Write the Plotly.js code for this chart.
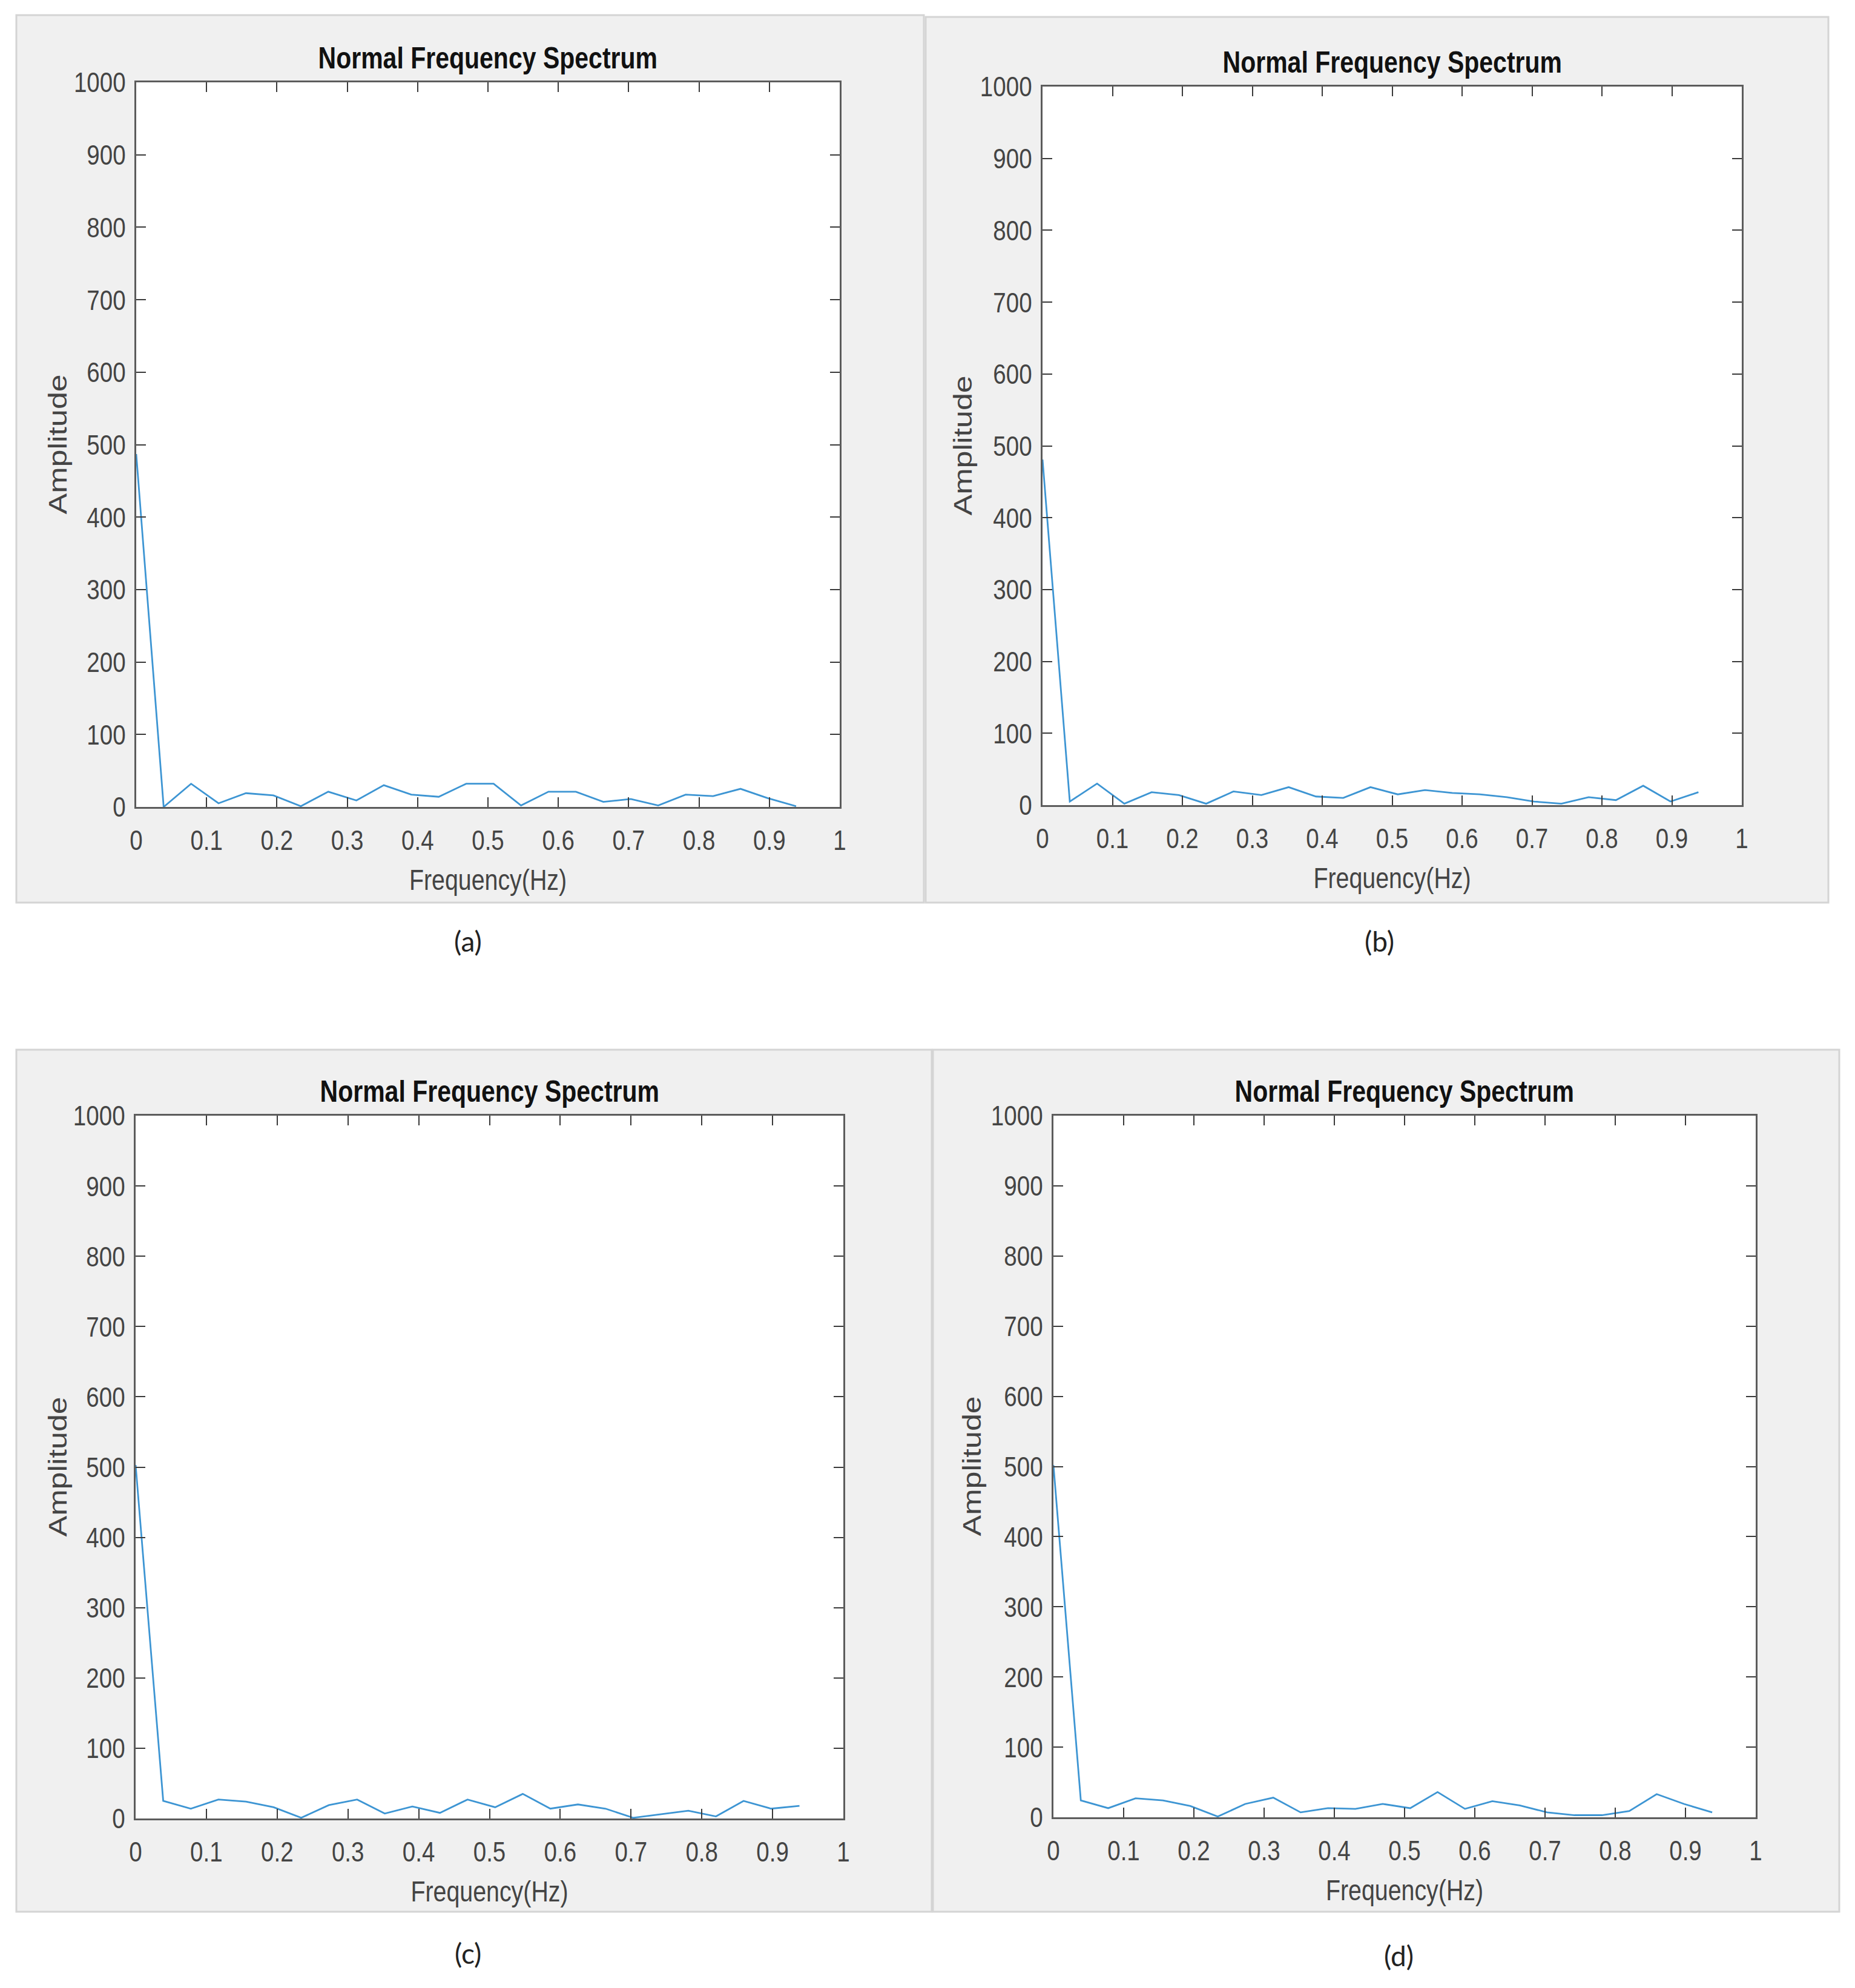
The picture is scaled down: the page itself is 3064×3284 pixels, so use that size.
<!DOCTYPE html>
<html>
<head>
<meta charset="utf-8">
<script src="https://cdn.plot.ly/plotly-3.0.1.min.js"></script>
<style>
	body { margin: 0; background: #ffffff; }
	#chart { width: 3064px; height: 3284px; }
</style>
</head>
<body>
<div id="chart"></div>
<script>

// frequency bins (Hz), shared by all four spectra
const freq = [
	0, 0.039, 0.078, 0.117, 0.156, 0.195, 0.234, 0.273, 0.313, 0.352, 0.391, 0.430, 0.469,
	0.508, 0.547, 0.586, 0.625, 0.664, 0.703, 0.742, 0.781, 0.820, 0.859, 0.898, 0.938
];

// amplitudes
const ampA = [ 487, 0, 32, 5, 19, 16, 1, 21, 9, 30, 17, 14, 32, 32, 2, 21, 21, 7, 11, 2, 17, 15, 25, 12, 1 ];
const ampB = [ 481, 5, 30, 2, 18, 14, 2, 19, 14, 25, 12, 10, 25, 15, 21, 17, 15, 11, 5, 2, 11, 7, 27, 5, 18 ];
const ampC = [ 503, 25, 14, 27, 24, 16, 1, 19, 27, 7, 17, 8, 27, 16, 35, 14, 20, 14, 1, 6, 11, 3, 25, 14, 18 ];
const ampD = [ 502, 24, 13, 27, 24, 16, 1, 19, 28, 7, 13, 12, 19, 13, 36, 12, 23, 17, 7, 3, 3, 9, 33, 19, 7 ];

const panelLabels = [ '(a)', '(b)', '(c)', '(d)' ];
const chartTitle = 'Normal Frequency Spectrum';
const xTitle = 'Frequency(Hz)';
const yTitle = 'Amplitude';

const W = 3064;
const H = 3284;

// plot boxes in page pixels: [ left, top, right, bottom ]
const boxes = [
	[ 225, 136, 1387, 1333 ],
	[ 1722, 143, 2877, 1330 ],
	[ 224, 1843, 1393, 3004 ],
	[ 1740, 1843, 2900, 3002 ]
];

// grey figure windows behind each plot
const windows = [
	[ 27, 25, 1526, 1491 ],
	[ 1529, 28, 3020, 1491 ],
	[ 27, 1734, 1539, 3158 ],
	[ 1541, 1734, 3038, 3158 ]
];

const labelPos = [ [ 773, 1554 ], [ 2278, 1554 ], [ 773, 3226 ], [ 2310, 3230 ] ];
const yTitleX = [ 95, 1590, 95, 1605 ];

const px = ( x ) => x / W;
const py = ( y ) => 1 - y / H;

const series = [ ampA, ampB, ampC, ampD ];

let data = [];
let layout = {
	width: W,
	height: H,
	margin: { l: 0, r: 0, t: 0, b: 0 },
	paper_bgcolor: '#ffffff',
	plot_bgcolor: '#ffffff',
	showlegend: false,
	shapes: [],
	annotations: []
};

const sans = 'Liberation Sans, Arial, sans-serif';

for ( let i = 0; i < 4; i++ ) {

	const w = windows[ i ];
	layout.shapes.push( {
		type: 'rect',
		xref: 'paper', yref: 'paper',
		x0: px( w[ 0 ] ), x1: px( w[ 2 ] ),
		y0: py( w[ 3 ] ), y1: py( w[ 1 ] ),
		fillcolor: '#f0f0f0',
		line: { color: '#d4d4d4', width: 3 },
		layer: 'below'
	} );
}

for ( let i = 0; i < 4; i++ ) {

	const suffix = i === 0 ? '' : String( i + 1 );
	const b = boxes[ i ];

	data.push( {
		x: freq,
		y: series[ i ],
		type: 'scatter',
		mode: 'lines',
		line: { color: '#3d95d3', width: 2.8 },
		xaxis: 'x' + suffix,
		yaxis: 'y' + suffix,
		hoverinfo: 'skip'
	} );

	const axisCommon = {
		showgrid: false,
		zeroline: false,
		showline: true,
		mirror: 'ticks',
		linecolor: '#5c5c5c',
		linewidth: 3,
		ticks: 'inside',
		ticklen: 16,
		tickwidth: 2,
		tickcolor: '#3a3a3a',
		tickfont: { family: sans, size: 47, color: '#444444' }
	};

	layout[ 'xaxis' + suffix ] = Object.assign( {}, axisCommon, {
		domain: [ px( b[ 0 ] ), px( b[ 2 ] ) ],
		anchor: 'y' + suffix,
		range: [ 0, 1 ],
		dtick: 0.1,
		tick0: 0,
		ticklabelstandoff: 12,
		title: {
			text: xTitle,
			font: { family: sans, size: 48, color: '#444444' },
			standoff: 24
		}
	} );

	layout[ 'yaxis' + suffix ] = Object.assign( {}, axisCommon, {
		domain: [ py( b[ 3 ] ), py( b[ 1 ] ) ],
		anchor: 'x' + suffix,
		range: [ 0, 1000 ],
		dtick: 100,
		tick0: 0,
		ticklabelstandoff: 5
	} );

	// white plot area on top of the grey window
	layout.shapes.push( {
		type: 'rect',
		xref: 'paper', yref: 'paper',
		x0: px( b[ 0 ] ), x1: px( b[ 2 ] ),
		y0: py( b[ 3 ] ), y1: py( b[ 1 ] ),
		fillcolor: '#ffffff',
		line: { width: 0 },
		layer: 'below'
	} );

	layout.annotations.push( {
		text: '<b>' + chartTitle + '</b>',
		xref: 'paper', yref: 'paper',
		x: px( ( b[ 0 ] + b[ 2 ] ) / 2 ),
		y: py( b[ 1 ] - 40 ),
		xanchor: 'center', yanchor: 'middle',
		showarrow: false,
		font: { family: sans, size: 50, color: '#111111' }
	} );

	layout.annotations.push( {
		text: yTitle,
		xref: 'paper', yref: 'paper',
		x: px( yTitleX[ i ] ),
		y: py( ( b[ 1 ] + b[ 3 ] ) / 2 ),
		xanchor: 'center', yanchor: 'middle',
		textangle: -90,
		showarrow: false,
		font: { family: sans, size: 52, color: '#444444' }
	} );

	layout.annotations.push( {
		text: panelLabels[ i ],
		xref: 'paper', yref: 'paper',
		x: px( labelPos[ i ][ 0 ] ),
		y: py( labelPos[ i ][ 1 ] ),
		xanchor: 'center', yanchor: 'middle',
		showarrow: false,
		font: { family: 'Lato, Open Sans, sans-serif', size: 46, color: '#222222' }
	} );
}

/**
 * The figure windows in the picture are squeezed sideways, so their text looks condensed.
 * Squeeze each label about its anchor point to get the same look.
 */
function squeezeText( el, s, vertical ) {

	const bb = el.getBBox();
	const prev = el.getAttribute( 'transform' ) || '';

	if ( vertical ) {

		const cy = bb.y + bb.height / 2;
		el.setAttribute( 'transform', prev + ' translate(0,' + cy + ') scale(1,' + s + ') translate(0,' + ( -cy ) + ')' );
		return;
	}

	const anchor = el.getAttribute( 'text-anchor' ) || 'start';
	let cx = bb.x + bb.width / 2;
	if ( anchor === 'end' ) cx = bb.x + bb.width;
	if ( anchor === 'start' ) cx = bb.x;
	el.setAttribute( 'transform', prev + ' translate(' + cx + ',0) scale(' + s + ',1) translate(' + ( -cx ) + ',0)' );
}

Plotly.newPlot( 'chart', data, layout, { staticPlot: true } ).then( function ( gd ) {

	const s = 0.82;
	gd.querySelectorAll( 'text' ).forEach( ( t ) => {
		const cls = t.getAttribute( 'class' ) || '';
		const parentCls = t.parentNode.getAttribute( 'class' ) || '';
		if ( /^x\d*title$/.test( cls ) || /^[xy]\d*tick$/.test( parentCls ) ) squeezeText( t, s, false );
	} );
	gd.querySelectorAll( '.annotation-text' ).forEach( ( t ) => {
		const txt = t.textContent;
		if ( txt === chartTitle ) squeezeText( t, s, false );
		else if ( txt === yTitle ) squeezeText( t, s, true );
	} );
} );

</script>
</body>
</html>
